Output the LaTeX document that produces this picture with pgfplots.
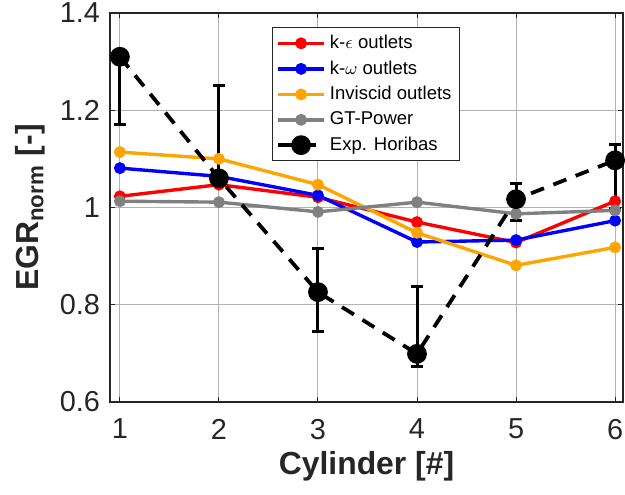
\documentclass[border=0pt]{standalone}
\usepackage{fontspec}
\setmainfont{Liberation Sans}
\usepackage{pgfplots}
\pgfplotsset{compat=1.18}
\definecolor{mborange}{rgb}{1,0.647,0}
\definecolor{mbgray}{rgb}{0.5,0.5,0.5}

\begin{document}
\begin{tikzpicture}
\begin{axis}[
  at={(0,0)}, anchor=south west,
  scale only axis, width=256.5bp, height=194.5bp,
  xmin=0.9, xmax=6.08, ymin=0.6, ymax=1.4,
  xtick={1,2,3,4,5,6}, ytick={0.6,0.8,1,1.2,1.4},
  grid=major, grid style={black!30, line width=0.5pt},
  axis line style={black!85, line width=0.6pt},
  major tick style={black!85, line width=0.5pt},
  tick align=inside, major tick length=2.5bp,
  /pgf/number format/assume math mode=true,
  ticklabel style={font=\fontsize{14.5}{16}\selectfont, text=black!85},
  xticklabel style={yshift=-5bp},
  yticklabel style={xshift=-1.5bp},
  xlabel={\textbf{Cylinder [\#]}},
  ylabel={\textbf{EGR\textsubscript{norm} [-]}},
  xlabel style={font=\fontsize{16}{18}\selectfont, text=black!85, at={(rel axis cs:0.5,0)}, anchor=center, yshift=-32bp},
  ylabel style={font=\fontsize{16}{18}\selectfont, text=black!85, at={(rel axis cs:-0.156,0.5)}, anchor=center, rotate=0},
  legend style={at={(rel axis cs:0.316,0.964)}, anchor=north west,
    font=\fontsize{9.3}{10.5}\selectfont, draw=black!85, line width=0.5pt,
    row sep=0.6bp, inner sep=1.8bp, cells={anchor=west}},
  legend cell align=left,
  legend image code/.code={\draw[mark repeat=2,mark phase=2,#1]
    plot coordinates {(0bp,0bp) (11.5bp,0bp) (23bp,0bp)};},
]
\addplot[red, line width=1.7pt, mark=*, mark size=2.1pt] coordinates {
  (1,1.023) (2,1.047) (3,1.021) (4,0.970) (5,0.928) (6,1.013)};
\addlegendentry{k-$\epsilon$ outlets}
\addplot[blue, line width=1.7pt, mark=*, mark size=2.1pt] coordinates {
  (1,1.081) (2,1.064) (3,1.025) (4,0.929) (5,0.933) (6,0.973)};
\addlegendentry{k-$\omega$ outlets}
\addplot[mborange, line width=1.7pt, mark=*, mark size=2.1pt] coordinates {
  (1,1.114) (2,1.100) (3,1.047) (4,0.948) (5,0.881) (6,0.918)};
\addlegendentry{Inviscid outlets}
\addplot[mbgray, line width=1.7pt, mark=*, mark size=2.1pt] coordinates {
  (1,1.013) (2,1.011) (3,0.991) (4,1.011) (5,0.987) (6,0.994)};
\addlegendentry{GT-Power}
\addplot[black, line width=1.9pt, dash pattern=on 7bp off 5bp, mark=*, mark size=4pt,
  mark options={solid},
  error bars/.cd, y dir=both, y explicit,
  error bar style={line width=1.5pt, solid},
  error mark options={rotate=90, mark size=2.8bp, line width=1.5pt, solid}] coordinates {
  (1,1.310) +=(0,0) -=(0,0.140)
  (2,1.060) +=(0,0.191) -=(0,0)
  (3,0.826) +=(0,0.090) -=(0,0.082)
  (4,0.699) +=(0,0.138) -=(0,0.025)
  (5,1.017) +=(0,0.032) -=(0,0.043)
  (6,1.097) +=(0,0.032) -=(0,0.099)};
\addlegendentry{Exp. Horibas}
\end{axis}
\pgfresetboundingbox
\path (-55bp,-46.5bp) rectangle (257.5bp,201bp);
\end{tikzpicture}
\end{document}
